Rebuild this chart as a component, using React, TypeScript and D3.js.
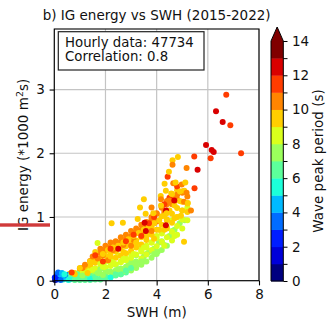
import React, { useEffect, useRef } from 'react';
import * as d3 from 'd3';

// SWH (m), IG energy (*1000 m2s), wave peak period (s).
// Lower green dots first, then the dense cloud column by column, then the individual dots on top.
const swh = [
  1.0, 1.3, 1.5, 1.8, 2.0, 2.2, 2.4, 2.6, 2.8, 3.0, 3.0, 3.2, 3.4, 3.5, 3.6, 3.7, 3.8, 3.9, 4.0, 4.05,
  4.1, 4.2, 4.3, 4.4, 4.5, 4.6, 4.7, 4.8, 4.9, 5.0, 5.1, 5.2, 2.5, 1.6, 3.3, 1.69, 2.9, 3.6, 4.2, 4.6,
  0.6, 0.6, 0.6, 0.8, 0.8, 0.8, 1.0, 1.0, 1.0, 1.0, 1.2, 1.2, 1.2, 1.2,
  1.4, 1.4, 1.4, 1.4, 1.4, 1.6, 1.6, 1.6, 1.6, 1.6,
  1.8, 1.8, 1.8, 1.8, 1.8, 1.8, 2.0, 2.0, 2.0, 2.0, 2.0, 2.0,
  2.2, 2.2, 2.2, 2.2, 2.2, 2.2, 2.4, 2.4, 2.4, 2.4, 2.4, 2.4,
  2.6, 2.6, 2.6, 2.6, 2.6, 2.6, 2.8, 2.8, 2.8, 2.8, 2.8, 2.8,
  3.0, 3.0, 3.0, 3.0, 3.0, 3.0, 3.2, 3.2, 3.2, 3.2, 3.2, 3.2,
  3.4, 3.4, 3.4, 3.4, 3.4, 3.4, 3.6, 3.6, 3.6, 3.6, 3.6, 3.6,
  3.8, 3.8, 3.8, 3.8, 3.8, 3.8, 4.0, 4.0, 4.0, 4.0, 4.0, 4.0,
  4.2, 4.2, 4.2, 4.2, 4.2, 4.2, 4.4, 4.4, 4.4, 4.4, 4.4, 4.4,
  4.6, 4.6, 4.6, 4.6, 4.6, 4.6, 4.8, 4.8, 4.8, 4.8, 4.8, 4.8,
  5.0, 5.0, 5.0, 5.0, 5.0, 5.2, 5.2, 5.2, 5.2,
  1.1, 1.1, 1.1, 1.5, 1.5, 1.5, 1.9, 1.9, 1.9, 2.3, 2.3, 2.3, 2.7, 2.7, 2.7,
  3.1, 3.1, 3.1, 3.5, 3.5, 3.5, 3.9, 3.9, 3.9, 4.3, 4.3, 4.3, 4.7, 4.7, 4.7,
  0.03, 0.08, 0.12, 0.18, 0.28, 0.35, 0.45, 0.5, 0.1, 0.25, 0.6, 0.7, 0.55, 0.8, 0.9, 0.15, 0.3, 0.02, 0.4, 0.65,
  1.0, 1.2, 1.4, 1.6, 1.8, 2.0, 2.2, 2.4, 2.6, 2.8, 3.0, 3.2, 1.3, 1.7, 2.1, 2.5, 0.9, 3.4, 1.1, 1.9,
  0.8, 1.0, 1.2, 1.3, 1.4, 1.5, 1.6, 1.7, 1.8, 1.9, 2.0, 2.1, 2.1, 2.2, 2.2, 2.3, 2.4, 2.5, 2.6, 2.7,
  2.7, 2.8, 2.9, 3.0, 3.0, 3.1, 3.2, 3.2, 3.3, 3.4, 3.5, 3.6, 3.6, 3.7, 3.8, 3.8, 3.9, 4.0, 4.1, 4.1,
  4.2, 4.3, 4.4, 4.4, 4.5, 4.6, 4.7, 4.8, 4.9, 5.0,
  0.68, 1.6, 1.9, 2.2, 2.5, 2.8, 3.1, 3.4, 3.7, 3.9, 4.3, 4.5, 4.8, 3.53, 4.36, 3.58, 4.37,
  2.24, 2.68, 3.26, 3.35, 3.5, 3.57, 3.8, 3.87, 4.16, 4.17, 4.17, 4.31, 4.36, 4.39, 4.43, 4.48, 4.49, 4.57, 4.6, 4.62,
  4.62, 4.65, 4.69, 4.74, 4.83, 4.91, 4.95, 4.98, 5.07, 5.07, 5.08, 5.12, 5.17, 5.17, 5.22, 5.34, 5.48, 5.6,
  5.47, 6.11, 5.93, 6.15, 6.23, 7.3, 6.32, 6.58, 6.88, 6.72,
];
const igEnergy = [
  0.12, 0.18, 0.15, 0.22, 0.18, 0.28, 0.25, 0.3, 0.35, 0.3, 0.42, 0.4, 0.48, 0.38, 0.55, 0.45, 0.6, 0.5, 0.7, 0.46,
  0.6, 0.75, 0.56, 0.85, 0.7, 0.95, 0.8, 1.0, 0.9, 1.1, 0.95, 1.15, 0.4, 0.3, 0.55, 0.59, 0.25, 0.42, 0.62, 0.78,
  0.02, 0.07, 0.11, 0.01, 0.06, 0.12, 0.01, 0.07, 0.14, 0.19, 0.01, 0.08, 0.15, 0.22,
  0.01, 0.08, 0.16, 0.24, 0.31, 0.02, 0.1, 0.19, 0.28, 0.37,
  0.02, 0.1, 0.18, 0.27, 0.36, 0.44, 0.04, 0.12, 0.21, 0.3, 0.39, 0.48,
  0.06, 0.14, 0.23, 0.33, 0.43, 0.53, 0.08, 0.16, 0.26, 0.36, 0.46, 0.56,
  0.1, 0.19, 0.29, 0.39, 0.5, 0.61, 0.13, 0.22, 0.32, 0.43, 0.54, 0.65,
  0.16, 0.26, 0.36, 0.47, 0.58, 0.7, 0.2, 0.3, 0.41, 0.52, 0.63, 0.75,
  0.25, 0.35, 0.46, 0.57, 0.68, 0.8, 0.3, 0.41, 0.52, 0.64, 0.75, 0.87,
  0.36, 0.48, 0.6, 0.72, 0.84, 0.96, 0.42, 0.54, 0.67, 0.8, 0.93, 1.06,
  0.48, 0.61, 0.74, 0.88, 1.01, 1.15, 0.55, 0.68, 0.82, 0.96, 1.1, 1.25,
  0.63, 0.77, 0.91, 1.05, 1.2, 1.35, 0.72, 0.86, 1.0, 1.14, 1.28, 1.42,
  0.82, 0.96, 1.1, 1.24, 1.38, 0.95, 1.08, 1.21, 1.32,
  0.04, 0.12, 0.2, 0.05, 0.17, 0.3, 0.06, 0.22, 0.4, 0.1, 0.28, 0.48, 0.15, 0.34, 0.56,
  0.22, 0.42, 0.64, 0.3, 0.52, 0.76, 0.42, 0.66, 0.9, 0.55, 0.8, 1.08, 0.7, 0.98, 1.26,
  0.01, 0.07, 0.1, 0.04, 0.08, 0.02, 0.06, 0.09, 0.02, 0.01, 0.03, 0.06, 0.01, 0.02, 0.05, 0.13, 0.12, 0.05, 0.1, 0.1,
  0.02, 0.05, 0.03, 0.06, 0.03, 0.07, 0.05, 0.1, 0.1, 0.16, 0.2, 0.25, 0.1, 0.12, 0.14, 0.18, 0.1, 0.3, 0.08, 0.09,
  0.1, 0.2, 0.25, 0.12, 0.3, 0.38, 0.45, 0.35, 0.5, 0.42, 0.55, 0.48, 0.32, 0.6, 0.38, 0.52, 0.62, 0.55, 0.68, 0.6,
  0.45, 0.72, 0.65, 0.78, 0.55, 0.7, 0.82, 0.6, 0.75, 0.88, 0.8, 0.92, 0.7, 0.85, 1.0, 0.78, 0.9, 1.05, 0.95, 0.8,
  1.15, 1.02, 1.2, 0.95, 1.1, 1.3, 1.18, 1.35, 1.25, 1.4,
  0.13, 0.4, 0.3, 0.5, 0.5, 0.62, 0.72, 0.7, 0.9, 1.0, 1.2, 1.3, 1.48, 0.91, 0.87, 0.78, 1.1,
  0.9, 0.91, 0.97, 1.15, 1.28, 1.05, 1.15, 1.06, 1.33, 1.28, 1.18, 1.52, 1.41, 1.06, 1.63, 1.71, 1.26, 1.37, 1.36, 1.89,
  1.82, 1.53, 1.26, 1.54, 1.94, 1.4, 1.02, 1.51, 1.24, 0.61, 1.41, 1.54, 1.38, 1.77, 1.22, 1.1, 1.45, 1.74,
  1.95, 1.92, 2.13, 2.05, 2.02, 2.0, 2.66, 2.49, 2.44, 2.92,
];
const peakPeriod = [
  7.8, 8.2, 7.6, 8.3, 7.8, 8.5, 7.9, 8.4, 8.1, 7.7, 8.6, 7.9, 8.4, 7.6, 8.7, 7.8, 8.3, 7.5, 8.6, 7.4,
  7.7, 8.0, 7.3, 8.5, 7.6, 8.2, 7.8, 8.4, 7.5, 8.1, 7.9, 8.6, 8.8, 8.0, 8.9, 8.5, 7.5, 7.2, 7.6, 7.4,
  5.5, 6.2, 9.8, 6.0, 6.8, 9.6, 6.3, 7.5, 8.6, 10.3, 6.1, 7.2, 8.4, 9.7,
  6.4, 6.9, 8.1, 9.4, 10.4, 6.2, 7.1, 8.3, 9.6, 10.6,
  6.5, 7.0, 7.8, 8.7, 9.7, 10.4, 6.4, 7.2, 8.0, 8.9, 9.6, 10.5,
  6.6, 7.3, 8.2, 8.8, 9.8, 10.3, 6.5, 7.4, 8.3, 9.0, 9.7, 10.6,
  6.8, 7.6, 8.4, 9.2, 9.9, 10.4, 6.9, 7.7, 8.3, 9.3, 9.8, 10.5,
  7.0, 7.8, 8.5, 9.2, 9.9, 10.6, 7.2, 7.9, 8.6, 9.4, 9.7, 10.4,
  7.4, 8.0, 8.6, 9.5, 9.9, 10.5, 7.3, 8.1, 8.7, 9.4, 9.8, 10.3,
  7.5, 8.2, 8.8, 9.5, 9.9, 10.6, 7.6, 8.3, 8.8, 9.4, 10.0, 10.4,
  7.7, 8.4, 8.9, 9.5, 9.8, 10.5, 7.9, 8.5, 9.0, 9.5, 10.2, 10.4,
  8.0, 8.6, 9.2, 9.6, 10.1, 10.6, 8.2, 8.7, 9.3, 9.7, 10.3, 9.5,
  8.4, 8.9, 9.4, 9.9, 10.4, 8.6, 9.1, 9.6, 10.2,
  6.7, 8.0, 10.1, 6.6, 8.5, 9.9, 6.9, 8.4, 10.2, 7.0, 8.6, 10.1, 7.2, 8.7, 10.2,
  7.5, 8.8, 10.0, 7.6, 8.9, 10.2, 7.8, 9.1, 10.1, 8.1, 9.2, 10.3, 8.3, 9.3, 10.0,
  0.5, 3.5, 3.2, 4.5, 4.2, 5.2, 4.8, 3.8, 2.5, 3.0, 5.5, 5.8, 5.0, 6.2, 6.0, 3.6, 4.0, 2.0, 5.3, 6.4,
  6.2, 6.5, 5.8, 6.8, 6.3, 6.6, 5.9, 6.7, 6.4, 6.9, 6.6, 7.0, 6.9, 7.2, 7.0, 7.3, 6.6, 7.2, 7.1, 7.4,
  9.8, 9.5, 10.2, 9.1, 9.8, 10.5, 9.4, 10.1, 10.6, 9.6, 10.3, 9.2, 10.5, 10.8, 9.3, 9.9, 10.4, 9.5, 10.2, 9.7,
  9.4, 10.5, 9.3, 10.1, 10.4, 9.8, 10.6, 9.6, 9.4, 10.3, 9.9, 10.7, 9.8, 9.5, 10.2, 10.6, 9.7, 10.5, 9.6, 9.2,
  10.3, 9.8, 10.8, 9.3, 9.4, 10.1, 9.9, 10.6, 9.5, 10.2,
  11.5, 11.2, 11.4, 11.6, 12.3, 11.3, 11.8, 11.4, 11.5, 11.2, 11.7, 11.3, 11.6, 12.3, 12.2, 12.1, 12.4,
  9.5, 9.6, 9.1, 9.5, 9.5, 9.5, 10.4, 9.4, 9.5, 10.5, 9.4, 9.6, 9.6, 9.6, 11.8, 9.4, 10.6, 9.5, 9.4, 9.3,
  10.5, 10.3, 12.3, 9.8, 9.5, 9.6, 9.5, 10.6, 10.4, 9.6, 9.3, 9.4, 10.5, 10.4, 9.6, 10.5, 11.3, 12.5,
  11.4, 11.3, 12.4, 12.2, 12.3, 11.2, 12.5, 12.6, 11.4, 11.3,
];

const xTicks = [0, 2, 4, 6, 8];
const yTicks = [0, 1, 2, 3];
const periodBounds = d3.range(0, 15);
const periodLabels = [0, 2, 4, 6, 8, 10, 12, 14];

const FONT = 'DejaVu Sans, sans-serif';

// matplotlib "jet"
const jetR = d3.scaleLinear([0, 0.35, 0.66, 0.89, 1], [0, 0, 1, 1, 0.5]).clamp(true);
const jetG = d3.scaleLinear([0, 0.125, 0.375, 0.64, 0.91, 1], [0, 0, 1, 1, 0, 0]).clamp(true);
const jetB = d3.scaleLinear([0, 0.11, 0.34, 0.65, 1], [0.5, 1, 1, 0, 0]).clamp(true);
const jet = (t: number) => d3.rgb(jetR(t) * 255, jetG(t) * 255, jetB(t) * 255).formatHex();

const binColors = d3.range(0, 14).map((i) => jet(i / 13));
const overColor = jet(1);
const color = d3.scaleThreshold<number, string>().domain(d3.range(1, 15)).range([...binColors, overColor]);

const App = () => {
  const svgRef = useRef<SVGSVGElement>(null);

  useEffect(() => {
    const svg = d3.select(svgRef.current);
    svg.selectAll('*').remove();

    const left = 54.3, right = 259, top = 29, bottom = 280.7;
    const x = d3.scaleLinear().domain([0, 8]).range([left, right]);
    const y = d3.scaleLinear().domain([0, 3.95]).range([bottom, top]);

    // grid
    svg.append('g')
      .selectAll('line')
      .data(xTicks)
      .join('line')
      .attr('x1', (d) => x(d)).attr('x2', (d) => x(d))
      .attr('y1', top).attr('y2', bottom)
      .attr('stroke', '#c4c4c4').attr('stroke-width', 1.2);
    svg.append('g')
      .selectAll('line')
      .data(yTicks)
      .join('line')
      .attr('x1', left).attr('x2', right)
      .attr('y1', (d) => y(d)).attr('y2', (d) => y(d))
      .attr('stroke', '#c4c4c4').attr('stroke-width', 1.2);

    // points
    svg.append('g')
      .selectAll('circle')
      .data(swh.map((s, i) => ({ s, e: igEnergy[i], t: peakPeriod[i] })))
      .join('circle')
      .attr('cx', (d) => x(d.s))
      .attr('cy', (d) => y(d.e))
      .attr('r', 3)
      .attr('fill', (d) => color(d.t));

    // frame
    svg.append('rect')
      .attr('x', left).attr('y', top)
      .attr('width', right - left).attr('height', bottom - top)
      .attr('fill', 'none').attr('stroke', 'black').attr('stroke-width', 1.1);

    // axes
    const xAxis = svg.append('g')
      .attr('transform', `translate(0,${bottom})`)
      .call(d3.axisBottom(x).tickValues(xTicks).tickSize(4.7).tickSizeOuter(0).tickPadding(4.5).tickFormat(d3.format('d')));
    const yAxis = svg.append('g')
      .attr('transform', `translate(${left},0)`)
      .call(d3.axisLeft(y).tickValues(yTicks).tickSize(4.7).tickSizeOuter(0).tickPadding(4.7).tickFormat(d3.format('d')));
    [xAxis, yAxis].forEach((g) => {
      g.select('.domain').remove();
      g.selectAll('line').attr('stroke', 'black').attr('stroke-width', 1.1);
      g.selectAll('text').attr('font-family', FONT).attr('font-size', 13.5).attr('fill', '#111');
    });

    svg.append('text')
      .attr('x', (left + right) / 2).attr('y', 317)
      .attr('text-anchor', 'middle')
      .attr('font-family', FONT).attr('font-size', 13.5).attr('fill', '#111')
      .text('SWH (m)');

    const yLabel = svg.append('text')
      .attr('transform', `translate(28,${(top + bottom) / 2}) rotate(-90)`)
      .attr('text-anchor', 'middle')
      .attr('font-family', FONT).attr('font-size', 13.5).attr('fill', '#111');
    yLabel.append('tspan').text('IG energy (*1000 m');
    yLabel.append('tspan').attr('font-size', 9.5).attr('dy', -5).text('2');
    yLabel.append('tspan').attr('dy', 5).text('s)');

    svg.append('text')
      .attr('x', (left + right) / 2).attr('y', 20)
      .attr('text-anchor', 'middle')
      .attr('font-family', FONT).attr('font-size', 13.5).attr('fill', '#111')
      .text('b) IG energy vs SWH (2015-2022)');

    // stats box
    svg.append('rect')
      .attr('x', 58.3).attr('y', 31.7).attr('width', 145.7).attr('height', 38.3)
      .attr('fill', 'white').attr('stroke', '#222').attr('stroke-width', 1.2);
    ['Hourly data: 47734', 'Correlation: 0.8'].forEach((s, i) => {
      svg.append('text')
        .attr('x', 65).attr('y', 46.8 + i * 13.9)
        .attr('font-family', FONT).attr('font-size', 13.3).attr('fill', '#111')
        .text(s);
    });

    // colorbar
    const cbL = 271, cbR = 283.3, apex = 27;
    const cb = d3.scaleLinear().domain([0, 14]).range([281, 41]);
    svg.append('g')
      .selectAll('rect')
      .data(d3.range(0, 14))
      .join('rect')
      .attr('x', cbL).attr('width', cbR - cbL)
      .attr('y', (d) => cb(d + 1)).attr('height', (d) => cb(d) - cb(d + 1) + 0.4)
      .attr('fill', (d) => binColors[d]);
    svg.append('path')
      .attr('d', `M${cbL},${cb(14) + 0.3}L${(cbL + cbR) / 2},${apex}L${cbR},${cb(14) + 0.3}Z`)
      .attr('fill', overColor);
    svg.append('path')
      .attr('d', `M${cbL},${cb(0)}L${cbL},${cb(14)}L${(cbL + cbR) / 2},${apex}L${cbR},${cb(14)}L${cbR},${cb(0)}Z`)
      .attr('fill', 'none').attr('stroke', 'black').attr('stroke-width', 1);
    const cAxis = svg.append('g')
      .attr('transform', `translate(${cbR},0)`)
      .call(d3.axisRight(cb).tickValues(periodBounds).tickSize(4.2).tickSizeOuter(0).tickPadding(4.5)
        .tickFormat((d) => (periodLabels.includes(+d) ? String(d) : '')));
    cAxis.select('.domain').remove();
    cAxis.selectAll('line').attr('stroke', 'black').attr('stroke-width', 1);
    cAxis.selectAll('text').attr('font-family', FONT).attr('font-size', 13.5).attr('fill', '#111');

    svg.append('text')
      .attr('transform', `translate(323,161) rotate(-90)`)
      .attr('text-anchor', 'middle')
      .attr('font-family', FONT).attr('font-size', 13.5).attr('fill', '#111')
      .text('Wave peak period (s)');

    // red marker at the left edge
    svg.append('rect')
      .attr('x', 0).attr('y', 223.3).attr('width', 50).attr('height', 3.4)
      .attr('fill', '#d03a3a');
  }, []);

  return (
    <svg ref={svgRef} width={328} height={324}
      style={{ position: 'absolute', left: 0, top: 0, background: 'white' }} />
  );
};

export default App;
